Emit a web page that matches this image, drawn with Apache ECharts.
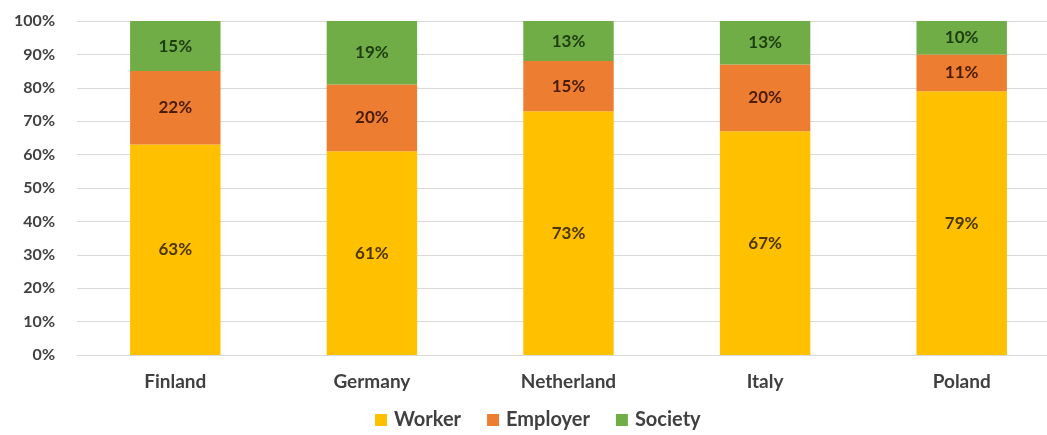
<!DOCTYPE html>
<html>
<head>
<meta charset="utf-8">
<script src="https://cdn.jsdelivr.net/npm/echarts@6/dist/echarts.min.js"></script>
<style>
  html, body { margin: 0; padding: 0; background: #ffffff; }
  #chart { width: 1047px; height: 435px; }
</style>
</head>
<body>
<div id="chart"></div>
<script>
// Who bears the cost: share per country (percent)
const countries = ['Finland', 'Germany', 'Netherland', 'Italy', 'Poland'];
const worker = [63, 61, 73, 67, 79];
const employer = [22, 20, 15, 20, 11];
const society = [15, 19, 13, 13, 10];
const yTicks = [0, 10, 20, 30, 40, 50, 60, 70, 80, 90, 100];

const FONT = 'Lato';
const colors = { worker: '#FFC000', employer: '#ED7D31', society: '#70AD47' };

function segment(name, data, color, labelColor) {
  return {
    name: name,
    type: 'bar',
    stack: 'share',
    barWidth: '46%',
    data: data,
    itemStyle: { color: color },
    label: {
      show: true,
      position: 'inside',
      formatter: p => p.value + '%',
      fontFamily: FONT,
      fontWeight: 'bold',
      fontSize: 17,
      color: labelColor
    }
  };
}

const chart = echarts.init(document.getElementById('chart'), null, { renderer: 'canvas' });
chart.setOption({
  animation: false,
  backgroundColor: '#ffffff',
  // plot area runs slightly past the right edge of the canvas
  grid: { left: 77, width: 983, top: 21, height: 334, containLabel: false, outerBoundsMode: 'none' },
  legend: {
    bottom: 0,
    left: 370,
    itemWidth: 12,
    itemHeight: 12,
    itemGap: 26,
    icon: 'rect',
    textStyle: { fontFamily: FONT, fontWeight: 'bold', fontSize: 20, color: '#404040', padding: [0, 0, 0, 2] },
    data: ['Worker', 'Employer', 'Society']
  },
  xAxis: {
    type: 'category',
    data: countries,
    axisLine: { show: true, lineStyle: { color: '#d9d9d9' } },
    axisTick: { show: false },
    axisLabel: { fontFamily: FONT, fontWeight: 'bold', fontSize: 19, color: '#404040', margin: 17 }
  },
  yAxis: {
    type: 'value',
    min: yTicks[0],
    max: yTicks[yTicks.length - 1],
    interval: yTicks[1] - yTicks[0],
    axisLine: { show: false },
    axisTick: { show: false },
    splitLine: { lineStyle: { color: '#d9d9d9', width: 1 } },
    axisLabel: {
      formatter: v => v + '%',
      fontFamily: FONT, fontWeight: 'bold', fontSize: 16, color: '#404040', margin: 22
    }
  },
  series: [
    segment('Worker', worker, colors.worker, '#4d3600'),
    segment('Employer', employer, colors.employer, '#4a1c06'),
    segment('Society', society, colors.society, '#1d3d10')
  ]
});
</script>
</body>
</html>
